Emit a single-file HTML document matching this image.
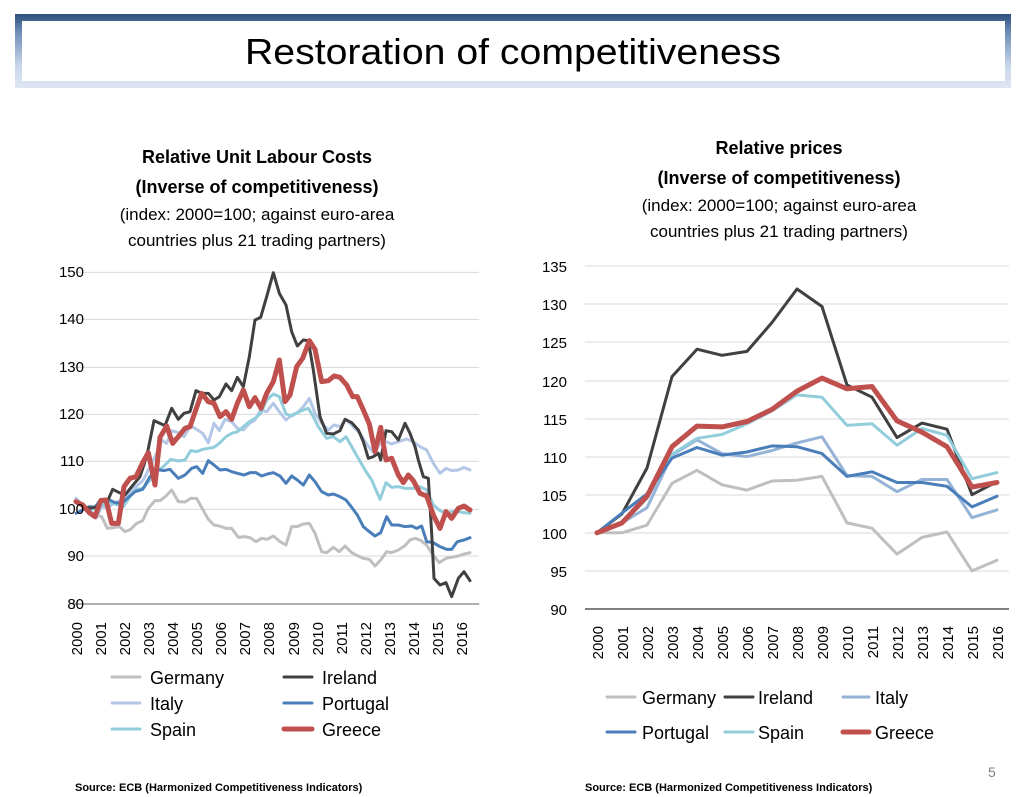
<!DOCTYPE html>
<html><head><meta charset="utf-8"><style>
html,body{margin:0;padding:0;background:#fff;}
svg{display:block;font-family:"Liberation Sans",sans-serif;}
</style></head><body>
<svg width="1033" height="797" viewBox="0 0 1033 797" xmlns="http://www.w3.org/2000/svg">
<defs>
<linearGradient id="bg" x1="0" y1="0" x2="0" y2="1">
<stop offset="0" stop-color="#2c4f7c"/><stop offset="0.25" stop-color="#6f8fb8"/><stop offset="0.7" stop-color="#c9d6ea"/><stop offset="1" stop-color="#dfe6f2"/>
</linearGradient>
</defs>
<rect x="15" y="14" width="996" height="74" fill="url(#bg)"/>
<rect x="22" y="21" width="983" height="60" fill="#fff"/>
<text x="513" y="64" font-size="36" text-anchor="middle" textLength="536" lengthAdjust="spacingAndGlyphs" fill="#000">Restoration of competitiveness</text>

<!-- LEFT TITLES -->
<g text-anchor="middle" fill="#000">
<text x="257" y="163" font-size="18" font-weight="bold">Relative Unit Labour Costs</text>
<text x="257" y="193" font-size="18" font-weight="bold">(Inverse of competitiveness)</text>
<text x="257" y="220" font-size="17">(index: 2000=100; against euro-area</text>
<text x="257" y="246" font-size="17">countries plus 21 trading partners)</text>
<text x="779" y="154" font-size="18" font-weight="bold">Relative prices</text>
<text x="779" y="184" font-size="18" font-weight="bold">(Inverse of competitiveness)</text>
<text x="779" y="211" font-size="17">(index: 2000=100; against euro-area</text>
<text x="779" y="237" font-size="17">countries plus 21 trading partners)</text>
</g>

<!-- LEFT CHART -->
<g transform="translate(60,260) scale(0.3333333)" fill="none" stroke-linejoin="round" stroke-linecap="round">
<g stroke="#d9d9d9" stroke-width="3">
<line x1="42" y1="37" x2="1256" y2="37"/><line x1="42" y1="178" x2="1256" y2="178"/><line x1="42" y1="322" x2="1256" y2="322"/><line x1="42" y1="463" x2="1256" y2="463"/><line x1="42" y1="604" x2="1256" y2="604"/><line x1="42" y1="748" x2="1256" y2="748"/><line x1="42" y1="888" x2="1256" y2="888"/>
</g>
<line x1="42" y1="1032" x2="1256" y2="1032" stroke="#7f7f7f" stroke-width="4"/>
<polyline stroke="#bfbfbf" stroke-width="9" points="48,715 68,740 90,755 105,765 125,770 142,805 160,803 178,800 195,815 212,808 230,790 248,782 265,745 285,722 300,722 318,708 335,690 355,725 375,726 392,715 410,715 428,748 445,778 462,795 478,798 498,805 515,805 535,832 552,830 570,833 588,845 605,835 622,838 640,828 660,845 678,855 695,800 712,800 730,792 748,790 765,820 785,875 800,878 820,862 838,875 855,858 875,878 895,888 910,895 928,898 945,918 962,900 980,875 995,878 1015,870 1035,857 1050,840 1065,835 1080,840 1100,855 1115,880 1138,908 1158,895 1175,892 1195,888 1212,882 1230,878"/>
<polyline stroke="#b4c7e7" stroke-width="9" points="48,715 68,738 88,748 108,775 125,740 145,742 165,728 185,720 210,695 230,678 250,660 270,620 290,580 305,540 320,550 335,512 355,518 372,530 392,498 410,508 428,520 445,548 462,490 478,512 495,478 515,485 532,505 550,510 568,490 585,480 602,450 620,455 640,430 658,455 678,480 695,465 712,458 730,440 748,415 765,460 785,490 805,510 822,495 840,500 858,478 880,500 900,520 920,552 942,580 960,550 978,545 995,552 1015,545 1040,537 1060,545 1080,560 1100,570 1120,610 1140,640 1158,625 1175,632 1195,630 1212,622 1230,630"/>
<polyline stroke="#92cddc" stroke-width="9" points="48,728 68,740 90,748 110,745 125,735 145,728 165,732 190,740 210,710 230,688 250,685 270,660 290,635 310,620 332,598 355,603 375,600 392,572 410,575 428,568 445,565 462,562 480,548 498,530 515,520 532,515 550,500 568,485 585,475 602,460 620,420 640,402 658,410 678,462 695,468 712,458 730,450 745,445 760,470 775,500 800,535 820,530 840,545 858,530 875,560 895,595 915,630 935,660 960,718 978,668 995,682 1015,680 1035,685 1060,685 1080,680 1100,690 1120,735 1140,752 1158,760 1175,755 1195,755 1212,758 1230,760"/>
<polyline stroke="#4a7ebb" stroke-width="9" points="48,760 68,750 88,740 105,742 122,718 145,718 165,728 185,730 205,712 225,695 248,688 270,650 290,628 310,632 330,628 355,655 375,645 395,625 410,620 428,640 445,602 462,615 480,630 498,628 515,635 532,640 552,645 570,638 588,638 605,648 622,642 640,638 660,648 678,670 695,648 712,660 730,675 748,645 765,665 785,695 805,705 820,702 840,710 858,720 875,742 892,765 910,800 928,815 945,828 962,818 980,770 995,795 1015,795 1035,800 1055,798 1070,805 1085,798 1100,845 1120,848 1140,860 1160,868 1175,868 1192,845 1212,840 1230,833"/>
<polyline stroke="#404040" stroke-width="9" points="48,725 70,740 90,745 110,740 125,720 145,718 158,688 178,698 195,705 215,680 240,650 260,590 282,482 300,490 315,497 335,445 355,478 372,460 390,455 408,392 425,400 445,400 462,420 478,410 498,372 515,392 532,352 550,380 568,290 585,180 602,172 620,110 640,38 658,100 678,135 695,215 712,258 730,240 745,242 760,330 770,400 780,470 800,520 820,522 840,512 855,478 875,488 895,510 910,545 925,595 940,590 955,580 962,600 978,512 995,515 1015,540 1035,490 1050,520 1065,560 1075,600 1090,650 1105,655 1115,820 1122,955 1140,975 1158,968 1175,1010 1195,955 1212,935 1230,962"/>
<polyline stroke="#c0504d" stroke-width="15" points="48,725 68,735 88,758 105,770 122,722 138,720 155,790 175,790 192,680 210,655 228,650 248,608 265,578 285,675 300,532 320,498 338,550 355,530 375,505 390,500 408,448 425,400 445,425 462,430 480,470 498,455 515,478 532,430 550,390 568,440 585,413 603,445 620,400 640,365 658,300 675,425 690,405 710,320 728,295 748,242 765,268 785,365 805,362 822,348 840,352 860,375 878,410 892,410 910,450 928,492 945,575 962,502 978,600 995,595 1015,645 1030,668 1045,645 1060,662 1080,700 1100,708 1120,765 1140,805 1158,755 1175,775 1195,745 1212,738 1230,750"/>
</g>
<g font-size="15" fill="#000" text-anchor="end">
<text x="84" y="277">150</text><text x="84" y="324">140</text><text x="84" y="372">130</text><text x="84" y="419">120</text><text x="84" y="466">110</text><text x="84" y="514">100</text><text x="84" y="561">90</text><text x="84" y="609">80</text>
</g>
<g font-size="15" fill="#000" text-anchor="end" id="ly">
<text transform="translate(82,622) rotate(-90)">2000</text>
<text transform="translate(106,622) rotate(-90)">2001</text>
<text transform="translate(130,622) rotate(-90)">2002</text>
<text transform="translate(154,622) rotate(-90)">2003</text>
<text transform="translate(178,622) rotate(-90)">2004</text>
<text transform="translate(202,622) rotate(-90)">2005</text>
<text transform="translate(226,622) rotate(-90)">2006</text>
<text transform="translate(250,622) rotate(-90)">2007</text>
<text transform="translate(274,622) rotate(-90)">2008</text>
<text transform="translate(299,622) rotate(-90)">2009</text>
<text transform="translate(323,622) rotate(-90)">2010</text>
<text transform="translate(347,622) rotate(-90)">2011</text>
<text transform="translate(371,622) rotate(-90)">2012</text>
<text transform="translate(395,622) rotate(-90)">2013</text>
<text transform="translate(419,622) rotate(-90)">2014</text>
<text transform="translate(443,622) rotate(-90)">2015</text>
<text transform="translate(467,622) rotate(-90)">2016</text>
</g>
<!-- left legend -->
<g stroke-linecap="round">
<line x1="112" y1="677" x2="140" y2="677" stroke="#bfbfbf" stroke-width="3"/>
<line x1="284" y1="677" x2="312" y2="677" stroke="#404040" stroke-width="3"/>
<line x1="112" y1="703" x2="140" y2="703" stroke="#b4c7e7" stroke-width="3"/>
<line x1="284" y1="703" x2="312" y2="703" stroke="#4a7ebb" stroke-width="3"/>
<line x1="112" y1="729" x2="140" y2="729" stroke="#92cddc" stroke-width="3"/>
<line x1="284" y1="729" x2="312" y2="729" stroke="#c0504d" stroke-width="5"/>
</g>
<g font-size="18" fill="#000">
<text x="150" y="684">Germany</text><text x="322" y="684">Ireland</text>
<text x="150" y="710">Italy</text><text x="322" y="710">Portugal</text>
<text x="150" y="736">Spain</text><text x="322" y="736">Greece</text>
</g>

<!-- RIGHT CHART -->
<g stroke="#d9d9d9" stroke-width="1">
<line x1="585" y1="266" x2="1009" y2="266"/><line x1="585" y1="304" x2="1009" y2="304"/><line x1="585" y1="342" x2="1009" y2="342"/><line x1="585" y1="381" x2="1009" y2="381"/><line x1="585" y1="419" x2="1009" y2="419"/><line x1="585" y1="457" x2="1009" y2="457"/><line x1="585" y1="495" x2="1009" y2="495"/><line x1="585" y1="533" x2="1009" y2="533"/><line x1="585" y1="571" x2="1009" y2="571"/>
</g>
<line x1="585" y1="609" x2="1009" y2="609" stroke="#000" stroke-width="1"/>
<g font-size="15" fill="#000" text-anchor="end">
<text x="567" y="272">135</text><text x="567" y="310">130</text><text x="567" y="348">125</text><text x="567" y="387">120</text><text x="567" y="425">115</text><text x="567" y="463">110</text><text x="567" y="501">105</text><text x="567" y="539">100</text><text x="567" y="577">95</text><text x="567" y="615">90</text>
</g>
<g font-size="15" fill="#000" text-anchor="end">
<text transform="translate(603,626) rotate(-90)">2000</text>
<text transform="translate(628,626) rotate(-90)">2001</text>
<text transform="translate(653,626) rotate(-90)">2002</text>
<text transform="translate(678,626) rotate(-90)">2003</text>
<text transform="translate(703,626) rotate(-90)">2004</text>
<text transform="translate(728,626) rotate(-90)">2005</text>
<text transform="translate(753,626) rotate(-90)">2006</text>
<text transform="translate(778,626) rotate(-90)">2007</text>
<text transform="translate(803,626) rotate(-90)">2008</text>
<text transform="translate(828,626) rotate(-90)">2009</text>
<text transform="translate(853,626) rotate(-90)">2010</text>
<text transform="translate(878,626) rotate(-90)">2011</text>
<text transform="translate(903,626) rotate(-90)">2012</text>
<text transform="translate(928,626) rotate(-90)">2013</text>
<text transform="translate(953,626) rotate(-90)">2014</text>
<text transform="translate(978,626) rotate(-90)">2015</text>
<text transform="translate(1003,626) rotate(-90)">2016</text>
</g>
<g id="rs" fill="none" stroke-linejoin="round" stroke-linecap="round"></g>
<!-- right legend -->
<g stroke-linecap="round">
<line x1="607" y1="697" x2="635" y2="697" stroke="#bfbfbf" stroke-width="3"/>
<line x1="725" y1="697" x2="753" y2="697" stroke="#404040" stroke-width="3"/>
<line x1="843" y1="697" x2="869" y2="697" stroke="#95b3d7" stroke-width="3"/>
<line x1="607" y1="732" x2="635" y2="732" stroke="#4a7ebb" stroke-width="3"/>
<line x1="725" y1="732" x2="753" y2="732" stroke="#92cddc" stroke-width="3"/>
<line x1="843" y1="732" x2="869" y2="732" stroke="#c0504d" stroke-width="5"/>
</g>
<g font-size="18" fill="#000">
<text x="642" y="704">Germany</text><text x="758" y="704">Ireland</text><text x="875" y="704">Italy</text>
<text x="642" y="739">Portugal</text><text x="758" y="739">Spain</text><text x="875" y="739">Greece</text>
</g>

<g font-size="11" font-weight="bold" fill="#000">
<text x="75" y="791">Source: ECB (Harmonized Competitiveness Indicators)</text>
<text x="585" y="791">Source: ECB (Harmonized Competitiveness Indicators)</text>
</g>
<text x="988" y="777" font-size="14" fill="#7f7f7f">5</text>
</svg>
<script>
(function(){
var S=[
["#bfbfbf",3,[100,100,101,106.5,108.2,106.3,105.6,106.8,106.9,107.4,101.3,100.6,97.2,99.4,100.1,95,96.4]],
["#404040",3,[100,102.5,108.5,120.5,124.1,123.3,123.8,127.6,132,129.7,119.4,117.8,112.5,114.4,113.6,105,106.7]],
["#95b3d7",3,[100,101.3,103.3,110.2,112.2,110.4,110,110.8,111.8,112.6,107.5,107.4,105.4,107,107,102,103]],
["#92cddc",3,[100,101.2,104.5,110.3,112.4,112.9,114.3,116,118.1,117.8,114.1,114.3,111.5,113.7,112.8,107.1,107.9]],
["#4a7ebb",3,[100,102.6,105.1,109.8,111.2,110.2,110.6,111.4,111.3,110.4,107.4,108,106.6,106.6,106.1,103.4,104.8]],
["#c0504d",5,[100,101.3,104.8,111.3,114,113.9,114.6,116.2,118.6,120.3,118.9,119.2,114.7,113.2,111.3,106,106.6]]];
var g=document.getElementById("rs"),ns="http://www.w3.org/2000/svg";
S.forEach(function(s){var p=document.createElementNS(ns,"polyline");
var pts=s[2].map(function(v,i){return (597+i*25)+","+(609-(v-90)*7.62).toFixed(1)}).join(" ");
p.setAttribute("points",pts);p.setAttribute("stroke",s[0]);p.setAttribute("stroke-width",s[1]);g.appendChild(p);});
})();
</script>
</body></html>
